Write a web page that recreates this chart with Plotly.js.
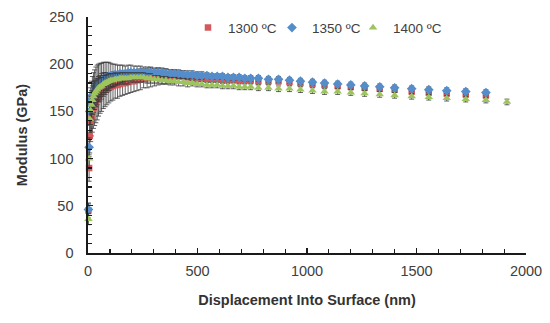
<!DOCTYPE html>
<html>
<head>
<meta charset="utf-8">
<script src="https://cdn.plot.ly/plotly-3.0.1.min.js"></script>
<style>html,body{margin:0;padding:0;background:#fff;}#chart{width:550px;height:323px;}</style>
</head>
<body>
<div id="chart"></div>
<script>
// Displacement into surface (nm)
const displacement = [2,5,8,12,16,20,25,30,36,42,48,55,62,70,78,86,95,104,114,124,135,146,158,170,183,196,210,224,239,254,270,286,303,320,338,356,375,394,414,434,455,476,498,520,543,566,590,614,639,664,690,716,743,778,824,870,920,970,1025,1080,1140,1200,1263,1332,1400,1478,1556,1638,1725,1817];
const displacementGreen = displacement.concat([1913]);

// Modulus (GPa)
const mod1300 = [45,90,124,138,145,150,154,157,160,163,166,168,170,172,173,174,175,176,177,178,178,179,180,180,181,182,182,183,184,185,185,186,186,187,187,187,187,187,187,187,186,186,186,186,185,185,185,184,184,184,183,183,183,182,182,182,181,180,179,178,177,176,175,174,173,171,170,169,168,167];
const mod1350 = [46,112,150,158,163,167,170,173,176,178,180,181,182,184,185,186,187,188,188,189,189,190,190,190,191,191,191,191,191,191,191,191,191,191,191,190,190,190,190,189,189,189,188,188,188,187,187,187,186,186,186,185,185,185,184,184,183,182,181,180,179,178,177,176,175,174,173,172,171,170];
const mod1400 = [36,100,142,151,157,162,166,169,171,173,175,176,177,179,180,181,182,183,183,184,184,185,185,185,185,186,186,186,186,186,185,185,184,184,183,183,182,182,181,181,180,180,179,179,178,178,178,177,177,177,176,176,176,175,175,174,174,173,172,171,171,170,169,168,167,166,165,164,163,162,160];

// Standard deviation (GPa)
const err1300 = [8,14,18,20,21,22,22,22,22,22,21,20,20,19,18,17,16,15,15,14,14,13,13,12,12,12,11,11,11,10,10,10,9,9,8,8,7,7,6,6,5,5,5,4,4,4,4,4,4,3,3,3,3,3,3,3,3,3,3,3,3,3,3,3,3,3,3,3,3,3];
const err1350 = [6,10,14,17,19,20,21,21,21,21,20,20,19,18,17,16,15,13,12,11,10,9,9,8,8,8,7,7,7,6,6,6,5,5,5,5,4,4,4,4,4,4,4,4,3,3,3,3,3,3,3,3,3,3,3,3,3,3,3,3,3,3,3,3,3,3,3,3,3,3];
const err1400 = [6,10,14,15,15,15,14,13,12,11,10,10,9,9,8,8,8,7,7,7,6,6,6,6,6,5,5,5,5,5,5,5,4,4,4,4,4,4,4,4,4,3,3,3,3,3,3,3,3,3,3,3,3,3,3,3,3,3,3,3,3,3,3,3,3,3,3,3,3,3,3];

const seriesNames = ['1300 ºC','1350 ºC','1400 ºC'];
const colors = ['#D5585A','#558DCB','#9EC45E'];

function mkTrace(x, y, e, name, color, symbol, size, legendId) {
  return {
    x: x, y: y, type: 'scatter', mode: 'markers', name: name, legend: legendId,
    marker: {symbol: symbol, size: size, color: color},
    error_y: {type: 'data', array: e, visible: true, color: '#3a3a3a', thickness: 0.8, width: 2.5},
    cliponaxis: false
  };
}

const data = [
  mkTrace(displacement, mod1300, err1300, seriesNames[0], colors[0], 'square', 6.5, 'legend'),
  mkTrace(displacement, mod1350, err1350, seriesNames[1], colors[1], 'diamond', 7.5, 'legend2'),
  mkTrace(displacementGreen, mod1400, err1400, seriesNames[2], colors[2], 'triangle-up', 7.5, 'legend3')
];

const fam = 'Liberation Sans, Arial, sans-serif';
const font = {family: fam, size: 14.5, color: '#404040'};
function leg(x) {
  return {orientation: 'h', x: x, y: 1.02, xanchor: 'left', yanchor: 'top',
          font: {family: fam, size: 13.5, color: '#404040'},
          bgcolor: 'rgba(0,0,0,0)', itemwidth: 30};
}

const layout = {
  width: 550, height: 323,
  margin: {l: 88, r: 24, t: 17, b: 70},
  paper_bgcolor: '#fff', plot_bgcolor: '#fff',
  font: font,
  showlegend: true,
  legend: leg(0.2283),
  legend2: leg(0.420),
  legend3: leg(0.605),
  xaxis: {
    range: [0, 2000], dtick: 500, tick0: 0,
    showgrid: false, zeroline: false,
    showline: true, linecolor: '#1a1a1a', linewidth: 1.6,
    ticks: 'inside', ticklen: 5, tickcolor: '#1a1a1a', tickwidth: 1.2,
    minor: {dtick: 100, ticks: 'inside', ticklen: 4, tickcolor: '#1a1a1a', tickwidth: 1.2},
    tickfont: font, ticklabelstandoff: 4,
    title: {text: '<b>Displacement Into Surface (nm)</b>', font: {family: fam, size: 14.5, color: '#333'}, standoff: 17}
  },
  yaxis: {
    range: [0, 250], dtick: 50, tick0: 0,
    showgrid: false, zeroline: false,
    showline: true, linecolor: '#1a1a1a', linewidth: 1.6,
    ticks: 'inside', ticklen: 5, tickcolor: '#1a1a1a', tickwidth: 1.2,
    minor: {dtick: 10, ticks: 'inside', ticklen: 4, tickcolor: '#1a1a1a', tickwidth: 1.2},
    tickfont: font, ticklabelstandoff: 10,
    title: {text: '<b>Modulus (GPa)</b>', font: {family: fam, size: 14.5, color: '#333'}, standoff: 18}
  }
};

Plotly.newPlot('chart', data, layout, {displayModeBar: false, staticPlot: true});
</script>
</body>
</html>
